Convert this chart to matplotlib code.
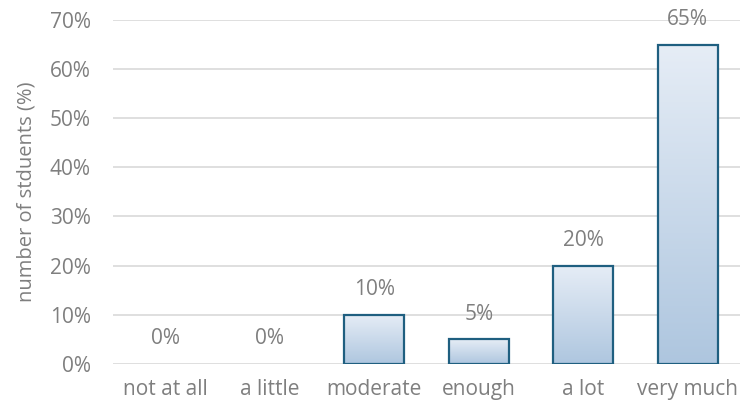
import numpy as np
import matplotlib.pyplot as plt
from matplotlib.colors import LinearSegmentedColormap

categorias = ['not at all', 'a little', 'moderate', 'enough', 'a lot', 'very much']
porcentajes = [0, 0, 10, 5, 20, 65]
ticks_y = [0, 10, 20, 30, 40, 50, 60, 70]

gris = '#7f7f7f'
plt.rcParams['font.family'] = ['Open Sans', 'DejaVu Sans']

fig = plt.figure(figsize=(7.4, 4.07), dpi=100)
ax = fig.add_axes([0.153, 0.106, 0.847, 0.845])

xx = np.arange(len(categorias))
barras = ax.bar(xx, porcentajes, width=0.575, color='none',
                edgecolor='#1f5f80', linewidth=1.6, zorder=3)

# relleno degradado: claro arriba, azul abajo
cmap = LinearSegmentedColormap.from_list('grad', ['#aec6df', '#e6edf6'])
grad = np.linspace(0, 1, 256).reshape(-1, 1)
for b in barras:
    h = b.get_height()
    if h <= 0:
        b.set_visible(False)
        continue
    x0 = b.get_x()
    im = ax.imshow(grad, cmap=cmap, origin='lower', aspect='auto',
                   extent=[x0, x0 + b.get_width(), 0, h], zorder=2)
    im.set_clip_path(b)

for x, v in zip(xx, porcentajes):
    ax.annotate(f'{v}%', (x, v), xytext=(0, 18), textcoords='offset points',
                ha='center', va='center', fontsize=15, color=gris)

ax.set_xlim(-0.5, len(categorias) - 0.5)
ax.set_ylim(0, 70)
ax.set_yticks(ticks_y)
ax.set_yticklabels([f'{t}%' for t in ticks_y])
ax.set_xticks(xx)
ax.set_xticklabels(categorias)
ax.tick_params(axis='both', length=0, labelsize=15, labelcolor=gris)
ax.tick_params(axis='y', pad=16)
ax.tick_params(axis='x', pad=11)
ax.set_ylabel('number of stduents (%)', fontsize=14.5, color=gris, labelpad=10)

ax.grid(axis='y', color='#d9d9d9', linewidth=1.2, zorder=0)
ax.set_axisbelow(True)
for s in ax.spines.values():
    s.set_visible(False)

fig.savefig('out.png', dpi=100)
